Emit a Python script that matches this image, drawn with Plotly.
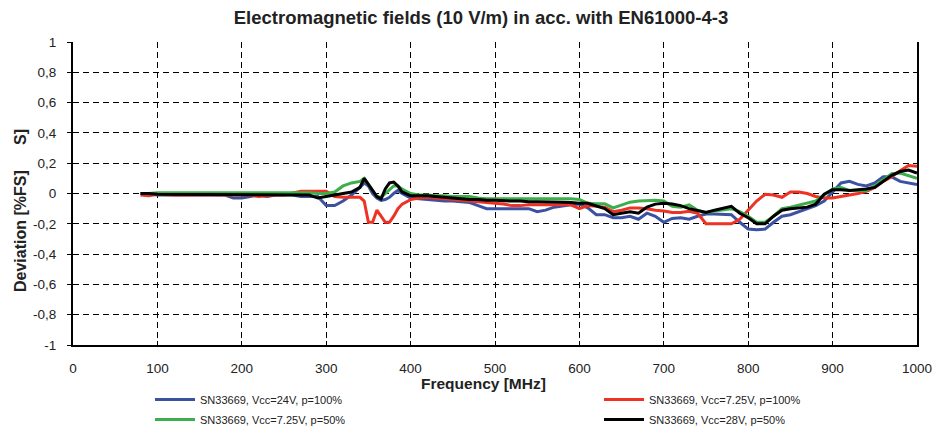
import plotly.graph_objects as go

freq_mhz = [80, 90, 100, 110, 120, 130, 140, 150, 160, 170, 180, 190, 200, 210, 220, 230, 240, 250,
            260, 270, 280, 290, 300, 310, 320, 330, 340, 345, 350, 355, 360, 365, 370, 375, 380, 385,
            390, 400, 410, 420, 430, 440, 450, 460, 470, 480, 490, 500, 510, 520, 530, 540, 550, 560,
            570, 580, 590, 600, 610, 620, 630, 640, 650, 660, 670, 680, 690, 700, 710, 720, 730, 740,
            750, 760, 770, 780, 790, 800, 810, 820, 830, 840, 850, 860, 870, 880, 890, 900, 910, 920,
            930, 940, 950, 960, 970, 980, 990, 1000]

blue_24v_100 = [0.0, 0.0, -0.01, -0.01, -0.01, -0.01, -0.01, -0.01, -0.01, -0.01, -0.01, -0.03, -0.03,
                -0.02, -0.01, -0.02, -0.01, -0.01, -0.01, -0.02, -0.02, -0.02, -0.08, -0.08, -0.05,
                -0.01, 0.04, 0.07, 0.05, 0.0, -0.03, -0.045, -0.04, -0.025, 0.0, 0.02, 0.0, -0.03,
                -0.035, -0.04, -0.045, -0.05, -0.05, -0.055, -0.06, -0.08, -0.1, -0.1, -0.1, -0.1,
                -0.1, -0.1, -0.12, -0.11, -0.09, -0.08, -0.075, -0.07, -0.095, -0.14, -0.14, -0.16,
                -0.16, -0.15, -0.17, -0.13, -0.15, -0.19, -0.165, -0.16, -0.17, -0.15, -0.136, -0.136,
                -0.136, -0.14, -0.19, -0.235, -0.24, -0.235, -0.19, -0.15, -0.14, -0.12, -0.1, -0.08,
                -0.05, 0.01, 0.07, 0.08, 0.06, 0.05, 0.07, 0.11, 0.11, 0.08, 0.07, 0.06]

red_725v_100 = [-0.01, -0.015, -0.005, -0.01, -0.01, -0.01, -0.01, -0.01, -0.01, -0.01, -0.01, -0.01,
                -0.01, -0.01, -0.02, -0.015, -0.01, -0.01, 0.0, 0.015, 0.015, 0.015, 0.015, -0.02,
                -0.025, -0.025, -0.025, -0.05, -0.19, -0.19, -0.11, -0.15, -0.19, -0.19, -0.15, -0.1,
                -0.07, -0.04, -0.03, -0.025, -0.03, -0.035, -0.04, -0.045, -0.05, -0.055, -0.06,
                -0.065, -0.07, -0.08, -0.08, -0.075, -0.075, -0.072, -0.072, -0.072, -0.075, -0.1,
                -0.08, -0.085, -0.09, -0.12, -0.11, -0.095, -0.095, -0.1, -0.11, -0.115, -0.125,
                -0.125, -0.118, -0.13, -0.2, -0.2, -0.2, -0.2, -0.17, -0.11, -0.05, -0.005, -0.01,
                -0.025, 0.01, 0.01, 0.0, -0.02, -0.03, -0.03, -0.02, -0.01, 0.0, 0.015, 0.04, 0.08,
                0.11, 0.15, 0.185, 0.18]

green_725v_50 = [0.0, 0.0, 0.005, 0.005, 0.005, 0.005, 0.005, 0.005, 0.005, 0.005, 0.005, 0.005, 0.005,
                 0.005, 0.005, 0.005, 0.005, 0.005, 0.005, 0.005, 0.005, 0.0, 0.0, 0.01, 0.05, 0.07,
                 0.08, 0.1, 0.06, 0.02, -0.02, -0.025, 0.0, 0.03, 0.05, 0.05, 0.03, 0.0, -0.01, -0.01,
                 -0.015, -0.015, -0.02, -0.02, -0.02, -0.03, -0.035, -0.035, -0.035, -0.035, -0.035,
                 -0.035, -0.035, -0.035, -0.035, -0.035, -0.035, -0.04, -0.065, -0.068, -0.068, -0.095,
                 -0.075, -0.057, -0.05, -0.045, -0.045, -0.05, -0.085, -0.09, -0.075, -0.11, -0.125,
                 -0.115, -0.105, -0.1, -0.12, -0.15, -0.19, -0.19, -0.15, -0.1, -0.09, -0.075, -0.06,
                 -0.05, -0.01, 0.03, 0.04, 0.02, 0.02, 0.02, 0.05, 0.09, 0.13, 0.135, 0.12, 0.1]

black_28v_50 = [0.0, 0.0, -0.005, -0.005, -0.005, -0.005, -0.005, -0.005, -0.005, -0.005, -0.005,
                -0.005, -0.005, -0.005, -0.005, -0.01, -0.005, -0.005, -0.005, -0.005, -0.01, -0.03,
                -0.02, -0.01, 0.0, 0.01, 0.04, 0.1, 0.06, 0.02, -0.02, -0.035, 0.03, 0.07, 0.075, 0.05,
                0.01, -0.015, -0.015, -0.015, -0.02, -0.025, -0.03, -0.035, -0.04, -0.04, -0.045,
                -0.045, -0.05, -0.05, -0.05, -0.055, -0.055, -0.055, -0.055, -0.057, -0.06, -0.065,
                -0.065, -0.08, -0.1, -0.14, -0.13, -0.12, -0.13, -0.09, -0.07, -0.064, -0.07, -0.08,
                -0.1, -0.115, -0.125, -0.11, -0.095, -0.085, -0.13, -0.16, -0.2, -0.2, -0.15, -0.11,
                -0.1, -0.095, -0.09, -0.07, -0.005, 0.025, 0.025, 0.02, 0.025, 0.03, 0.04, 0.08, 0.12,
                0.145, 0.155, 0.135]

series_names = ["SN33669, Vcc=24V, p=100%", "SN33669, Vcc=7.25V, p=100%",
                "SN33669, Vcc=7.25V, p=50%", "SN33669, Vcc=28V, p=50%"]
series_colors = ["#3b52a3", "#ee3224", "#3dae4a", "#000000"]
series_values = [blue_24v_100, red_725v_100, green_725v_50, black_28v_50]
series_legends = ["legend", "legend2", "legend3", "legend4"]

x_tick_vals = [0, 100, 200, 300, 400, 500, 600, 700, 800, 900, 1000]
x_tick_text = ["0", "100", "200", "300", "400", "500", "600", "700", "800", "900", "1000"]
y_tick_vals = [1, 0.8, 0.6, 0.4, 0.2, 0, -0.2, -0.4, -0.6, -0.8, -1]
y_tick_text = ["1", "0,8", "0,6", "0,4", "0,2", "0", "-0,2", "-0,4", "-0,6", "-0,8", "-1"]

FONT = "Liberation Sans, Arial, sans-serif"
TXT = "#222"

# page body has an 8px default margin: target pixel positions are compensated by it
SHIFT = 8
PLOT_L, PLOT_R, PLOT_T, PLOT_B = 73, 917, 42, 345
PW, PH = PLOT_R - PLOT_L, PLOT_B - PLOT_T


def px_x(x):
    return (x - PLOT_L) / PW


def px_y(y):
    return (PLOT_B - y) / PH


fig = go.Figure()
for name, color, vals, lg in zip(series_names, series_colors, series_values, series_legends):
    fig.add_trace(go.Scatter(x=freq_mhz, y=vals, mode="lines", name=name,
                             line=dict(color=color, width=3), legend=lg, showlegend=True))

axis_common = dict(showline=True, linecolor="black", linewidth=2, showgrid=True,
                   gridcolor="black", gridwidth=1.4, griddash="6px,4px", zeroline=False,
                   tickfont=dict(family=FONT, size=13.5, color=TXT), ticklen=4,
                   tickcolor="black", tickwidth=1, automargin=False)

fig.update_xaxes(range=[0, 1000], tickvals=x_tick_vals, ticktext=x_tick_text,
                 ticks="inside", ticklabelstandoff=10, **axis_common)
fig.update_yaxes(range=[-1, 1], tickvals=y_tick_vals, ticktext=y_tick_text,
                 ticks="outside", mirror=True, ticklabelstandoff=8, **axis_common)

leg_font = dict(family=FONT, size=11, color=TXT)
leg_pos = {"legend": (150, 385), "legend2": (599, 385), "legend3": (150, 405), "legend4": (599, 405)}
legends = {k: dict(x=px_x(x), y=px_y(y), xanchor="left", yanchor="top", orientation="v",
                   font=leg_font, bgcolor="rgba(0,0,0,0)", itemwidth=40, visible=True)
           for k, (x, y) in leg_pos.items()}

fig.update_layout(
    width=949, height=428,
    showlegend=True,
    margin=dict(l=PLOT_L - SHIFT, r=949 - PLOT_R + SHIFT, t=PLOT_T - SHIFT,
                b=428 - PLOT_B + SHIFT, autoexpand=False),
    paper_bgcolor="white", plot_bgcolor="white",
    font=dict(family=FONT, size=12, color=TXT),
    title=dict(text="<b>Electromagnetic fields (10 V/m) in acc. with EN61000-4-3</b>",
               x=(481 - SHIFT) / 949, xref="container", xanchor="center",
               y=1 - (18 - SHIFT) / 428, yref="container", yanchor="middle",
               font=dict(family=FONT, size=18.5, color=TXT)),
    **legends,
    annotations=[
        dict(text="<b>Frequency [MHz]</b>", xref="paper", yref="paper",
             x=px_x(483), y=px_y(383.5), xanchor="center", yanchor="middle",
             showarrow=False, font=dict(family=FONT, size=15.5, color=TXT)),
        dict(text="<b>Deviation [%FS]</b>", xref="paper", yref="paper",
             x=px_x(20), y=px_y(231), xanchor="center", yanchor="middle",
             textangle=-90, showarrow=False, font=dict(family=FONT, size=16, color=TXT)),
        dict(text="<b>S]</b>", xref="paper", yref="paper",
             x=px_x(20), y=px_y(137), xanchor="center", yanchor="middle",
             textangle=-90, showarrow=False, font=dict(family=FONT, size=16, color=TXT)),
    ],
)

fig.write_html("out.html")
